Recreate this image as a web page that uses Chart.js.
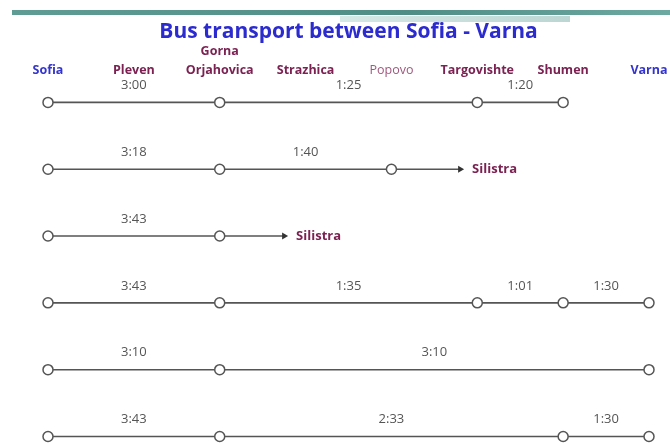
<!DOCTYPE html>
<html lang="en">
<head>
  <meta charset="UTF-8">
  <title>Bus transport between Sofia - Varna</title>
  <script src="https://cdn.jsdelivr.net/npm/chart.js"></script>
  <style>
    body { margin: 0; background: #fff; font-family: 'Open Sans', sans-serif; }
    .wrap { position: relative; width: 670px; height: 443px; }
    .bar { position: absolute; left: 12px; top: 10px; width: 658px; height: 5px;
           background: linear-gradient(to right, #5f9c94, #4e8d86 60%, #6ea9a1); }
    .bar2 { position: absolute; left: 340px; top: 16px; width: 230px; height: 6px;
            background: linear-gradient(to right, #d6e8e6, #bcd6d3); }
  </style>
</head>
<body>
<div class="wrap">
  <div class="bar"></div>
  <div class="bar2"></div>
  <canvas id="busChart"></canvas>
</div>

<script>
// stations along the line Sofia - Varna (x axis)
const stations = ['Sofia', 'Pleven', ['Gorna', 'Orjahovica'], 'Strazhica', 'Popovo', 'Targovishte', 'Shumen', 'Varna'];

// each route: stops (station index) and travel time between the stops
const route1Stops = [0, 2, 5, 6];
const route1Times = ['3:00', '1:25', '1:20'];
const route2Stops = [0, 2, 4];
const route2Times = ['3:18', '1:40'];
const route3Stops = [0, 2];
const route3Times = ['3:43'];
const route4Stops = [0, 2, 5, 6, 7];
const route4Times = ['3:43', '1:35', '1:01', '1:30'];
const route5Stops = [0, 2, 7];
const route5Times = ['3:10', '3:10'];
const route6Stops = [0, 2, 6, 7];
const route6Times = ['3:43', '2:33', '1:30'];

// branches leaving the line towards Silistra: row, from stop, arrow end
const branchRows = [2, 3];
const branchFrom = [4, 2];
const branchTo = [4.8, 2.75];
const branchName = 'Silistra';

const routes = [
  { stops: route1Stops, times: route1Times },
  { stops: route2Stops, times: route2Times },
  { stops: route3Stops, times: route3Times },
  { stops: route4Stops, times: route4Times },
  { stops: route5Stops, times: route5Times },
  { stops: route6Stops, times: route6Times }
];

const lineColor = '#555555';
const datasets = [];
routes.forEach((r, i) => {
  datasets.push({
    data: r.stops.map(s => ({ x: s, y: i + 1 })),
    borderColor: lineColor,
    borderWidth: 1.6,
    pointRadius: 5,
    pointBackgroundColor: '#fff',
    pointBorderColor: lineColor,
    pointBorderWidth: 1.5,
    clip: false,
    order: 0
  });
});
branchRows.forEach((row, i) => {
  datasets.push({
    data: [{ x: branchFrom[i], y: row }, { x: branchTo[i], y: row }],
    borderColor: lineColor,
    borderWidth: 1.6,
    pointStyle: 'triangle',
    rotation: 90,
    pointRadius: [0, 4],
    pointBackgroundColor: '#333',
    pointBorderColor: '#333',
    pointBorderWidth: 0,
    clip: false,
    order: 1
  });
});

// travel times above each segment and the Silistra labels
const textPlugin = {
  id: 'routeText',
  afterDatasetsDraw(chart) {
    const ctx = chart.ctx;
    const xs = chart.scales.x, ys = chart.scales.y;
    ctx.save();
    ctx.textAlign = 'center';
    ctx.textBaseline = 'middle';
    ctx.font = '13px "Open Sans"';
    ctx.fillStyle = '#555';
    routes.forEach((r, i) => {
      const y = ys.getPixelForValue(i + 1) - 17;
      r.times.forEach((t, j) => {
        const x = (xs.getPixelForValue(r.stops[j]) + xs.getPixelForValue(r.stops[j + 1])) / 2;
        ctx.fillText(t, x, y);
      });
    });
    ctx.textAlign = 'left';
    ctx.font = 'bold 13px "Open Sans"';
    ctx.fillStyle = '#7b2252';
    branchRows.forEach((row, i) => {
      ctx.fillText(branchName, xs.getPixelForValue(branchTo[i]) + 12, ys.getPixelForValue(row));
    });
    ctx.restore();
  }
};

new Chart(document.getElementById('busChart'), {
  type: 'line',
  data: { datasets: datasets },
  plugins: [textPlugin],
  options: {
    responsive: true,
    maintainAspectRatio: false,
    animation: false,
    layout: { padding: { left: 48, right: 21, top: 23, bottom: 6 } },
    plugins: {
      legend: { display: false },
      tooltip: { enabled: false },
      title: {
        display: true,
        text: 'Bus transport between Sofia - Varna',
        color: '#2b2bcf',
        font: { family: 'Open Sans', size: 21, weight: 'bold', lineHeight: 0.9 },
        padding: { top: 0, bottom: 0 }
      }
    },
    scales: {
      x: {
        type: 'linear',
        position: 'top',
        min: 0,
        max: 7,
        grid: { display: true, drawOnChartArea: false, drawTicks: true, tickLength: 23, color: 'rgba(0,0,0,0)' },
        border: { display: false },
        ticks: {
          stepSize: 1,
          autoSkip: false,
          maxRotation: 0,
          padding: 0,
          callback: v => stations[v],
          color: ctx => (ctx.index === 0 || ctx.index === 7) ? '#3434cf' : (ctx.index === 4 ? '#a0587e' : '#7b2252'),
          font: ctx => ({ family: 'Open Sans', size: 12.5, weight: ctx.index === 4 ? 'normal' : 'bold', lineHeight: 1.5 })
        }
      },
      y: {
        type: 'linear',
        min: 1,
        max: 6,
        reverse: true,
        display: false
      }
    }
  }
});
</script>
</body>
</html>
